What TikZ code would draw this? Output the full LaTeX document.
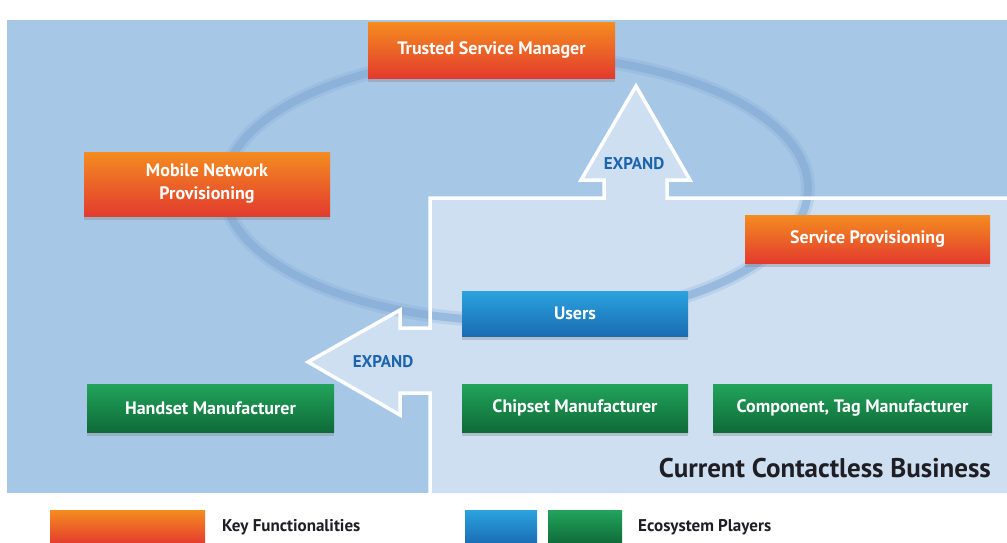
\documentclass[tikz,border=0pt]{standalone}
\usepackage{fontspec}
\setmainfont{PT Sans}
\usetikzlibrary{shadows}
\definecolor{bgout}{HTML}{A6C7E6}
\definecolor{bgin}{HTML}{CEDFF1}
\definecolor{ringc}{HTML}{7FA8D6}
\definecolor{orgtop}{HTML}{F48C20}
\definecolor{orgbot}{HTML}{E33B2E}
\definecolor{blutop}{HTML}{2BA3DE}
\definecolor{blubot}{HTML}{1A6CB3}
\definecolor{grntop}{HTML}{22A45C}
\definecolor{grnbot}{HTML}{0E6A37}
\definecolor{expc}{HTML}{1C64AC}
\definecolor{darktxt}{HTML}{1E1E24}
\begin{document}
\begin{tikzpicture}[x=1pt,y=-1pt,
  boxbase/.style={rectangle, inner sep=0pt, text=white, align=center,
    font=\bfseries\fontsize{18}{23}\selectfont,
    drop shadow={opacity=0.35, shadow xshift=0pt, shadow yshift=-4pt}},
  keyfunc/.style={boxbase, top color=orgtop, bottom color=orgbot},
  userbox/.style={boxbase, top color=blutop, bottom color=blubot},
  playerbox/.style={boxbase, top color=grntop, bottom color=grnbot},
  legendbox/.style={rectangle, inner sep=0pt},
  expandlbl/.style={text=expc, font=\bfseries\fontsize{17}{19}\selectfont, inner sep=1pt},
  legendlbl/.style={text=darktxt, font=\bfseries\fontsize{17}{19}\selectfont, anchor=west, inner sep=0pt},
  ring/.style={draw=ringc}
]
\useasboundingbox (0,0) rectangle (1007,542);
\fill[white] (0,0) rectangle (1007,542);
% outer background
\fill[bgout] (7,20) rectangle (1007,493);
% inner region with both arrows
\fill[bgin] (430,493) -- (430,393) -- (400,393) -- (400,415) -- (308,362) -- (400,310) -- (400,328) -- (430,328)
  -- (430,198) -- (604,198) -- (604,180) -- (581,180) -- (636,86) -- (690,180) -- (667,180) -- (667,198)
  -- (1007,198) -- (1007,493) -- cycle;
% ring
\draw[ring, line width=14pt, opacity=0.25] (516,188) ellipse [x radius=292, y radius=133];
\draw[ring, line width=8pt, opacity=0.55] (516,188) ellipse [x radius=292, y radius=133];
% white outline
\draw[white, line width=3.5pt, line join=miter] (430,493) -- (430,393) -- (400,393) -- (400,415) -- (308,362) -- (400,310) -- (400,328) -- (430,328)
  -- (430,198) -- (604,198) -- (604,180) -- (581,180) -- (636,86) -- (690,180) -- (667,180) -- (667,198)
  -- (1007,198);
% boxes
\node[keyfunc, minimum width=247pt, minimum height=56pt] (tsm) at (491.5,50) {Trusted Service Manager};
\node[keyfunc, minimum width=246pt, minimum height=64pt] (mnp) at (207,184) {Mobile Network\\Provisioning};
\node[keyfunc, minimum width=245pt, minimum height=48pt] (sp) at (867.5,239) {Service Provisioning};
\node[userbox, minimum width=226pt, minimum height=45pt] (users) at (575,313.5) {Users};
\node[playerbox, minimum width=247pt, minimum height=48pt] (hm) at (210.5,408) {Handset Manufacturer};
\node[playerbox, minimum width=226pt, minimum height=48pt] (cm) at (575,408) {Chipset Manufacturer};
\node[playerbox, minimum width=279pt, minimum height=48pt] (ctm) at (852.5,408) {Component, Tag Manufacturer};
% expand labels
\node[expandlbl] (exup) at (634,164) {EXPAND};
\node[expandlbl] (exleft) at (383,362) {EXPAND};
% title
\node[anchor=east, text=darktxt, font=\bfseries\fontsize{27}{30}\selectfont, inner sep=0pt] (ccb) at (991,468) {Current Contactless Business};
% legend
\node[legendbox, top color=orgtop, bottom color=orgbot, minimum width=155pt, minimum height=34pt] (lkf) at (127.5,527) {};
\node[legendlbl] (lkft) at (222,527) {Key Functionalities};
\node[legendbox, top color=blutop, bottom color=blubot, minimum width=72pt, minimum height=34pt] (lblu) at (501,527) {};
\node[legendbox, top color=grntop, bottom color=grnbot, minimum width=74pt, minimum height=34pt] (lgrn) at (585,527) {};
\node[legendlbl] (lept) at (638,527) {Ecosystem Players};
\end{tikzpicture}
\end{document}
